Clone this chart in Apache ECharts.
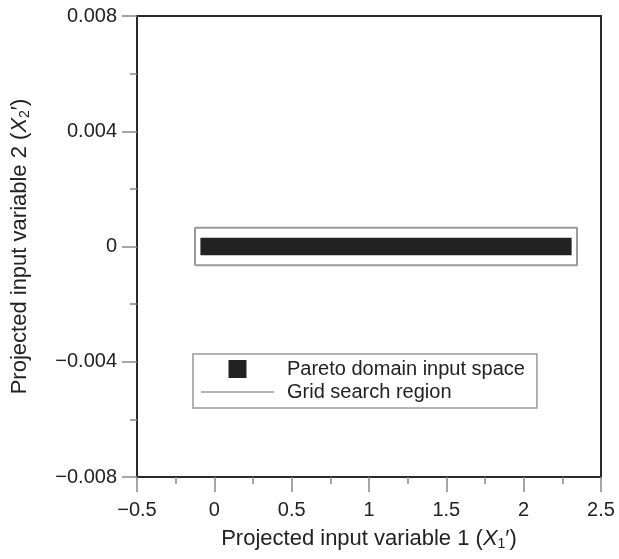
<!DOCTYPE html>
<html>
<head>
<meta charset="utf-8">
<script src="https://cdn.jsdelivr.net/npm/echarts@6/dist/echarts.min.js"></script>
<style>
html,body{margin:0;padding:0;background:#fff;}
#chart{width:619px;height:559px;}
</style>
</head>
<body>
<div id="chart"></div>
<script>
// Data
const xTicks = [-0.5, 0, 0.5, 1, 1.5, 2, 2.5];
const yTicks = [-0.008, -0.004, 0, 0.004, 0.008];
// Pareto domain input space: x range and y range
const paretoX = [-0.09, 2.31];
const paretoY = [-0.0003, 0.0003];
// Grid search region rectangle: x range and y range
const gridX = [-0.125, 2.345];
const gridY = [-0.00065, 0.00065];

const FONT = '"Liberation Sans", Arial, Helvetica, sans-serif';
const TICK_FS = 20;
const TITLE_FS = 22;
const LEG_FS = 20;

function fmt(v, dec) {
  if (Math.abs(v) < 1e-12) return '0';
  let s = dec === 3 ? Math.abs(v).toFixed(3) : String(Math.abs(v));
  return (v < 0 ? '\u2212' : '') + s;
}

const gridPath = [
  [gridX[0], gridY[0]], [gridX[1], gridY[0]], [gridX[1], gridY[1]],
  [gridX[0], gridY[1]], [gridX[0], gridY[0]]
];

function titleStyle() {
  return {
    color: '#222', fontSize: TITLE_FS, fontFamily: FONT,
    rich: {
      i: { fontStyle: 'italic', fontSize: TITLE_FS, fontFamily: FONT, color: '#222' },
      s: { fontSize: 14, fontFamily: FONT, color: '#222', padding: [10, 0, 0, 0] },
      p: { fontSize: TITLE_FS, fontFamily: FONT, color: '#222' }
    }
  };
}

const chart = echarts.init(document.getElementById('chart'));
chart.setOption({
  animation: false,
  backgroundColor: '#fff',
  textStyle: { fontFamily: FONT },
  grid: { left: 137, right: 18, top: 16, bottom: 82, show: true, borderColor: '#2a2a2a', borderWidth: 2, containLabel: false },
  xAxis: {
    type: 'value', min: xTicks[0], max: xTicks[xTicks.length - 1], interval: 0.5,
    splitLine: { show: false },
    axisLine: { show: true, onZero: false, lineStyle: { color: '#2a2a2a', width: 2 } },
    axisTick: { show: true, inside: false, length: 15, lineStyle: { color: '#888', width: 1.5 } },
    minorTick: { show: true, splitNumber: 2, length: 7, lineStyle: { color: '#888', width: 1.5 } },
    axisLabel: { margin: 23, color: '#222', fontSize: TICK_FS, fontFamily: FONT, formatter: v => fmt(v, 1) },
    name: 'Projected input variable 1 ({i|X}{s|1}{p|\u2032})',
    nameLocation: 'middle', nameGap: 50,
    nameTextStyle: titleStyle()
  },
  yAxis: {
    type: 'value', min: yTicks[0], max: yTicks[yTicks.length - 1], interval: 0.004,
    splitLine: { show: false },
    axisLine: { show: true, onZero: false, lineStyle: { color: '#2a2a2a', width: 2 } },
    axisTick: { show: true, inside: false, length: 15, lineStyle: { color: '#888', width: 1.5 } },
    minorTick: { show: true, splitNumber: 2, length: 7, lineStyle: { color: '#888', width: 1.5 } },
    axisLabel: { margin: 20, color: '#222', fontSize: TICK_FS, fontFamily: FONT, formatter: v => fmt(v, 3) },
    name: 'Projected input variable 2 ({i|X}{s|2}{p|\u2032})',
    nameLocation: 'middle', nameGap: 105, nameRotate: 90,
    nameTextStyle: titleStyle()
  },
  legend: {
    orient: 'vertical', left: 193, top: 354,
    padding: [5, 12, 6, 8], itemGap: 3, itemWidth: 73, itemHeight: 18,
    borderColor: '#999', borderWidth: 1.5,
    symbolKeepAspect: true,
    textStyle: { fontSize: LEG_FS, lineHeight: 20, fontFamily: FONT, color: '#222', padding: [0, 0, 0, 8] },
    data: [
      { name: 'Pareto domain input space', icon: 'path://M0,0h10v10h-10z', itemStyle: { color: '#222' } },
      { name: 'Grid search region', icon: 'path://M0,0h146v3h-146z', itemStyle: { color: '#999' } }
    ]
  },
  series: [
    {
      name: 'Pareto domain input space',
      type: 'custom',
      color: '#222',
      renderItem: function (params, api) {
        const p0 = api.coord([api.value(0), api.value(3)]);
        const p1 = api.coord([api.value(1), api.value(2)]);
        return {
          type: 'rect',
          shape: { x: p0[0], y: p0[1], width: p1[0] - p0[0], height: p1[1] - p0[1] },
          style: { fill: '#222' }
        };
      },
      encode: { x: [0, 1], y: [2, 3] },
      data: [[paretoX[0], paretoX[1], paretoY[0], paretoY[1]]],
      z: 3
    },
    {
      name: 'Grid search region',
      type: 'line',
      symbol: 'none',
      lineStyle: { color: '#999', width: 2 },
      itemStyle: { color: '#999' },
      data: gridPath,
      z: 2
    }
  ]
});
</script>
</body>
</html>
